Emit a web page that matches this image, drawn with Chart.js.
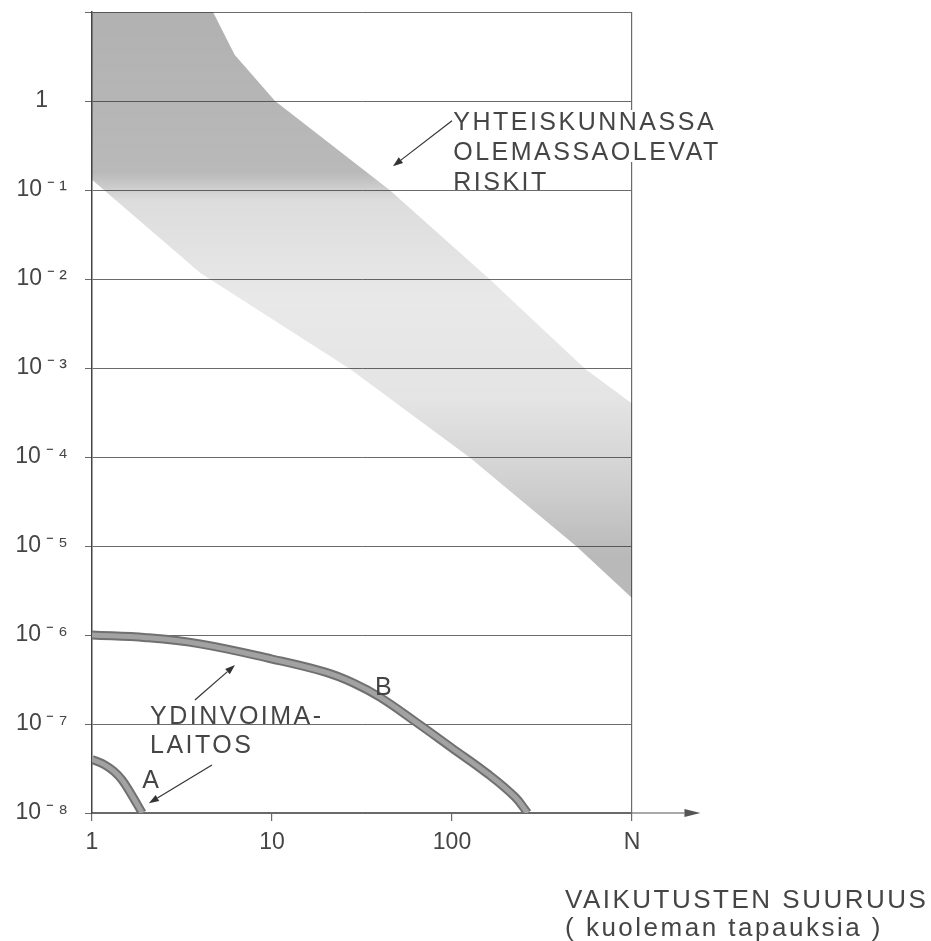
<!DOCTYPE html>
<html><head><meta charset="utf-8">
<script src="https://cdn.jsdelivr.net/npm/chart.js@4.4.1/dist/chart.umd.min.js"></script>
<style>html,body{margin:0;padding:0;background:#fff;}canvas{display:block;}</style>
</head><body>
<canvas id="c" width="931" height="941"></canvas>
<script>
// ---- axes ----
const xTickValues = [1, 10, 100, 1000];
const xTickLabels = ['1', '10', '100', 'N'];
const yTickValues = [1e-8, 1e-7, 1e-6, 1e-5, 1e-4, 1e-3, 1e-2, 1e-1, 1, 10];
const yTickLabels = ['10\u2009⁻\u2009⁸', '10\u2009⁻\u2009⁷', '10\u2009⁻\u2009⁶', '10\u2009⁻\u2009⁵', '10\u2009⁻\u2009⁴',
                     '10\u2009⁻\u2009³', '10\u2009⁻\u2009²', '10\u2009⁻\u2009¹', '1', ''];

// ---- band of existing societal risks ----
const bandUpperX = [1, 4.7, 6.2, 10.4, 45, 163, 548, 1000];
const bandUpperY = [10, 10, 3.3, 1, 0.1, 0.0098, 0.00098, 0.0004];
const bandLowerX = [1, 4, 27, 126, 494, 1000];
const bandLowerY = [0.13, 0.0117, 0.00098, 9.8e-5, 9.8e-6, 2.6e-6];

// ---- nuclear power plant curves ----
const curveBX = [1, 2, 3.98, 10, 20, 28.2, 39.8, 63.1, 100, 158, 224, 263];
const curveBY = [1e-6, 9.33e-7, 7.94e-7, 5.37e-7, 3.8e-7, 2.9e-7, 2.0e-7, 1.05e-7, 5.37e-8, 2.75e-8, 1.51e-8, 1e-8];
const curveAX = [1, 1.17, 1.32, 1.47, 1.66, 1.9];
const curveAY = [4.0e-8, 3.5e-8, 2.95e-8, 2.35e-8, 1.6e-8, 1.0e-8];

const arrowEndValue = 2400;

const FONT = "'Liberation Sans', Arial, Helvetica, sans-serif";
const TEXT = '#454545';
const GRID = '#6a6a6a';

const zip = (xs, ys) => xs.map((x, i) => ({x, y: ys[i]}));
const bandPoly = zip(bandUpperX, bandUpperY).concat(zip(bandLowerX, bandLowerY).reverse());

function bandFill(c) {
  const chart = c.chart, a = chart.chartArea;
  if (!a) return 'rgba(60,60,60,0.25)';
  const g = chart.ctx.createLinearGradient(0, a.top, 0, a.bottom);
  g.addColorStop(0.00, 'rgba(50,50,50,0.38)');
  g.addColorStop(0.20, 'rgba(50,50,50,0.34)');
  g.addColorStop(0.235, 'rgba(50,50,50,0.17)');
  g.addColorStop(0.36, 'rgba(50,50,50,0.11)');
  g.addColorStop(0.48, 'rgba(50,50,50,0.13)');
  g.addColorStop(0.58, 'rgba(50,50,50,0.22)');
  g.addColorStop(0.68, 'rgba(50,50,50,0.34)');
  g.addColorStop(1.00, 'rgba(50,50,50,0.34)');
  return g;
}

const notes = {
  riskLines: ['YHTEISKUNNASSA', 'OLEMASSAOLEVAT', 'RISKIT'],
  riskAnchor: [101.6, 0.1],
  riskArrow: [[100, 0.6], [47, 0.185]],
  plantLines: ['YDINVOIMA-', 'LAITOS'],
  plantAnchor: [2.1, 1e-7],
  arrowB: [[3.73, 1.86e-7], [6.23, 4.6e-7]],
  arrowA: [[4.64, 3.46e-8], [2.07, 1.29e-8]],
  labelA: [1.9, 1.91e-8],
  labelB: [37.3, 2.12e-7],
  title: ['VAIKUTUSTEN SUURUUS', '( kuoleman tapauksia )']
};

function arrow(ctx, x1, y1, x2, y2, len, w) {
  const ang = Math.atan2(y2 - y1, x2 - x1);
  const bx = x2 - len * Math.cos(ang), by = y2 - len * Math.sin(ang);
  ctx.beginPath(); ctx.moveTo(x1, y1); ctx.lineTo(bx, by); ctx.stroke();
  ctx.beginPath();
  ctx.moveTo(x2, y2);
  ctx.lineTo(bx + w * Math.sin(ang), by - w * Math.cos(ang));
  ctx.lineTo(bx - w * Math.sin(ang), by + w * Math.cos(ang));
  ctx.closePath(); ctx.fill();
}

const extras = {
  id: 'extras',
  afterDraw(chart) {
    const {ctx, chartArea: a, scales: {x, y}} = chart;
    const P = (p) => [x.getPixelForValue(p[0]), y.getPixelForValue(p[1])];
    ctx.save();
    // x-axis extension with arrow
    ctx.strokeStyle = '#555'; ctx.fillStyle = '#555'; ctx.lineWidth = 1.2;
    const ay = y.getPixelForValue(1e-8);
    arrow(ctx, a.right, ay, x.getPixelForValue(arrowEndValue), ay, 16, 4);

    ctx.font = '25px ' + FONT;
    ctx.letterSpacing = '2.5px';
    ctx.textBaseline = 'alphabetic';
    ctx.textAlign = 'left';

    // societal risk label
    const [rx, ry] = P(notes.riskAnchor);
    const lh = 30;
    const n = notes.riskLines.length;
    let wmax = 0;
    notes.riskLines.forEach(t => { wmax = Math.max(wmax, ctx.measureText(t).width); });
    ctx.fillStyle = '#fff';
    ctx.fillRect(rx - 2, ry - (n - 1) * lh - 20, wmax + 4, (n - 1) * lh - 8);
    ctx.fillStyle = TEXT;
    notes.riskLines.forEach((t, i) => ctx.fillText(t, rx, ry - (n - 1 - i) * lh));

    // plant label
    const [px, py] = P(notes.plantAnchor);
    notes.plantLines.forEach((t, i) => ctx.fillText(t, px, py + i * 29));
    const [axl, ayl] = P(notes.labelA);
    ctx.fillText('A', axl, ayl);
    const [bxl, byl] = P(notes.labelB);
    ctx.fillText('B', bxl, byl);

    // arrows
    ctx.strokeStyle = '#333'; ctx.fillStyle = '#333'; ctx.lineWidth = 1.2;
    [notes.riskArrow, notes.arrowB, notes.arrowA].forEach(([f, t]) => {
      const [x1, y1] = P(f), [x2, y2] = P(t);
      arrow(ctx, x1, y1, x2, y2, 10, 3.5);
    });

    // axis title
    ctx.fillStyle = TEXT;
    ctx.font = '26px ' + FONT;
    ctx.letterSpacing = '2.5px';
    ctx.fillText(notes.title[0], 565, 908);
    ctx.fillText(notes.title[1], 565, 936);
    ctx.restore();
  }
};

new Chart(document.getElementById('c'), {
  type: 'line',
  data: {
    datasets: [
      {data: bandPoly, fill: 'shape', backgroundColor: bandFill, borderWidth: 0, pointRadius: 0, tension: 0, order: 5},
      {data: zip(curveBX, curveBY), borderColor: '#707070', borderWidth: 9, pointRadius: 0, fill: false, tension: 0.4, order: 2},
      {data: zip(curveBX, curveBY), borderColor: '#a2a2a2', borderWidth: 5, pointRadius: 0, fill: false, tension: 0.4, order: 1},
      {data: zip(curveAX, curveAY), borderColor: '#707070', borderWidth: 9, pointRadius: 0, fill: false, cubicInterpolationMode: 'monotone', order: 2},
      {data: zip(curveAX, curveAY), borderColor: '#a2a2a2', borderWidth: 5, pointRadius: 0, fill: false, cubicInterpolationMode: 'monotone', order: 1}
    ]
  },
  options: {
    responsive: false,
    animation: false,
    devicePixelRatio: 1,
    layout: {padding: {left: 0, top: 12, right: 299, bottom: 0}},
    plugins: {legend: {display: false}, tooltip: {enabled: false}},
    scales: {
      x: {
        type: 'logarithmic', min: 1, max: 1000,
        afterBuildTicks(s) { s.ticks = xTickValues.map(v => ({value: v})); },
        afterFit(s) { s.height = 128; },
        ticks: {callback: (v, i) => xTickLabels[i], color: TEXT, font: {family: FONT, size: 23, lineHeight: 1}, padding: 10, maxRotation: 0, autoSkip: false},
        grid: {color: (c) => (c.tick && c.tick.value === 1000) ? GRID : 'rgba(0,0,0,0)', tickColor: GRID, tickLength: 8, lineWidth: 1.2},
        border: {color: GRID, width: 1.2}
      },
      y: {
        type: 'logarithmic', min: 1e-8, max: 10,
        afterBuildTicks(s) { s.ticks = yTickValues.map(v => ({value: v})); },
        afterFit(s) { s.width = 92; s.paddingTop = 0; s.paddingBottom = 0; },
        ticks: {callback: (v, i) => yTickLabels[i], color: TEXT, font: {family: FONT, size: 23, lineHeight: 1}, padding: 17, crossAlign: 'center', autoSkip: false},
        grid: {color: GRID, tickColor: GRID, tickLength: 7, lineWidth: 1},
        border: {color: '#444', width: 1.5}
      }
    }
  },
  plugins: [extras]
});
</script>
</body></html>
